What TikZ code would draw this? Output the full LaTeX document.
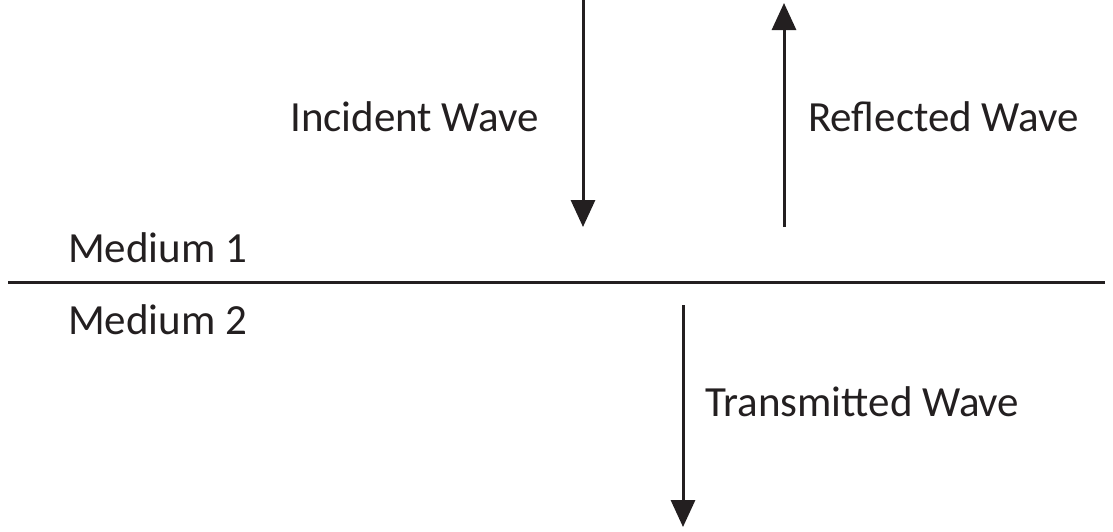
\documentclass[tikz,border=0pt]{standalone}
\usepackage{fontspec}
\setmainfont{Carlito}
\usetikzlibrary{arrows.meta}
\definecolor{ink}{HTML}{231F20}
\begin{document}
\begin{tikzpicture}[x=1pt,y=-1pt,
  wave/.style={draw=ink,line width=3pt,-{Triangle[width=24pt,length=27pt]}},
  lbl/.style={text=ink,font=\fontsize{43}{50}\selectfont,inner sep=0pt}]
\useasboundingbox (0,0) rectangle (1113,531);
\coordinate (i0) at (583,0);
\coordinate (i1) at (583,227);
\coordinate (r0) at (784,227);
\coordinate (r1) at (784,3);
\coordinate (t0) at (683,305);
\coordinate (t1) at (683,527);
\coordinate (h0) at (8,282);
\coordinate (h1) at (1105,282);
\draw[wave] (i0) -- (i1);
\draw[wave] (r0) -- (r1);
\draw[wave] (t0) -- (t1);
\draw[draw=ink,line width=3pt] (h0) -- (h1);
\node[lbl,anchor=west] (inc) at (290,117) {Incident Wave};
\node[lbl,anchor=west] (ref) at (808,117) {Reflected Wave};
\node[lbl,anchor=west] (m1) at (68,248) {Medium 1};
\node[lbl,anchor=west] (m2) at (68,320) {Medium 2};
\node[lbl,anchor=west] (tra) at (705,402) {Transmitted Wave};
\end{tikzpicture}
\end{document}
